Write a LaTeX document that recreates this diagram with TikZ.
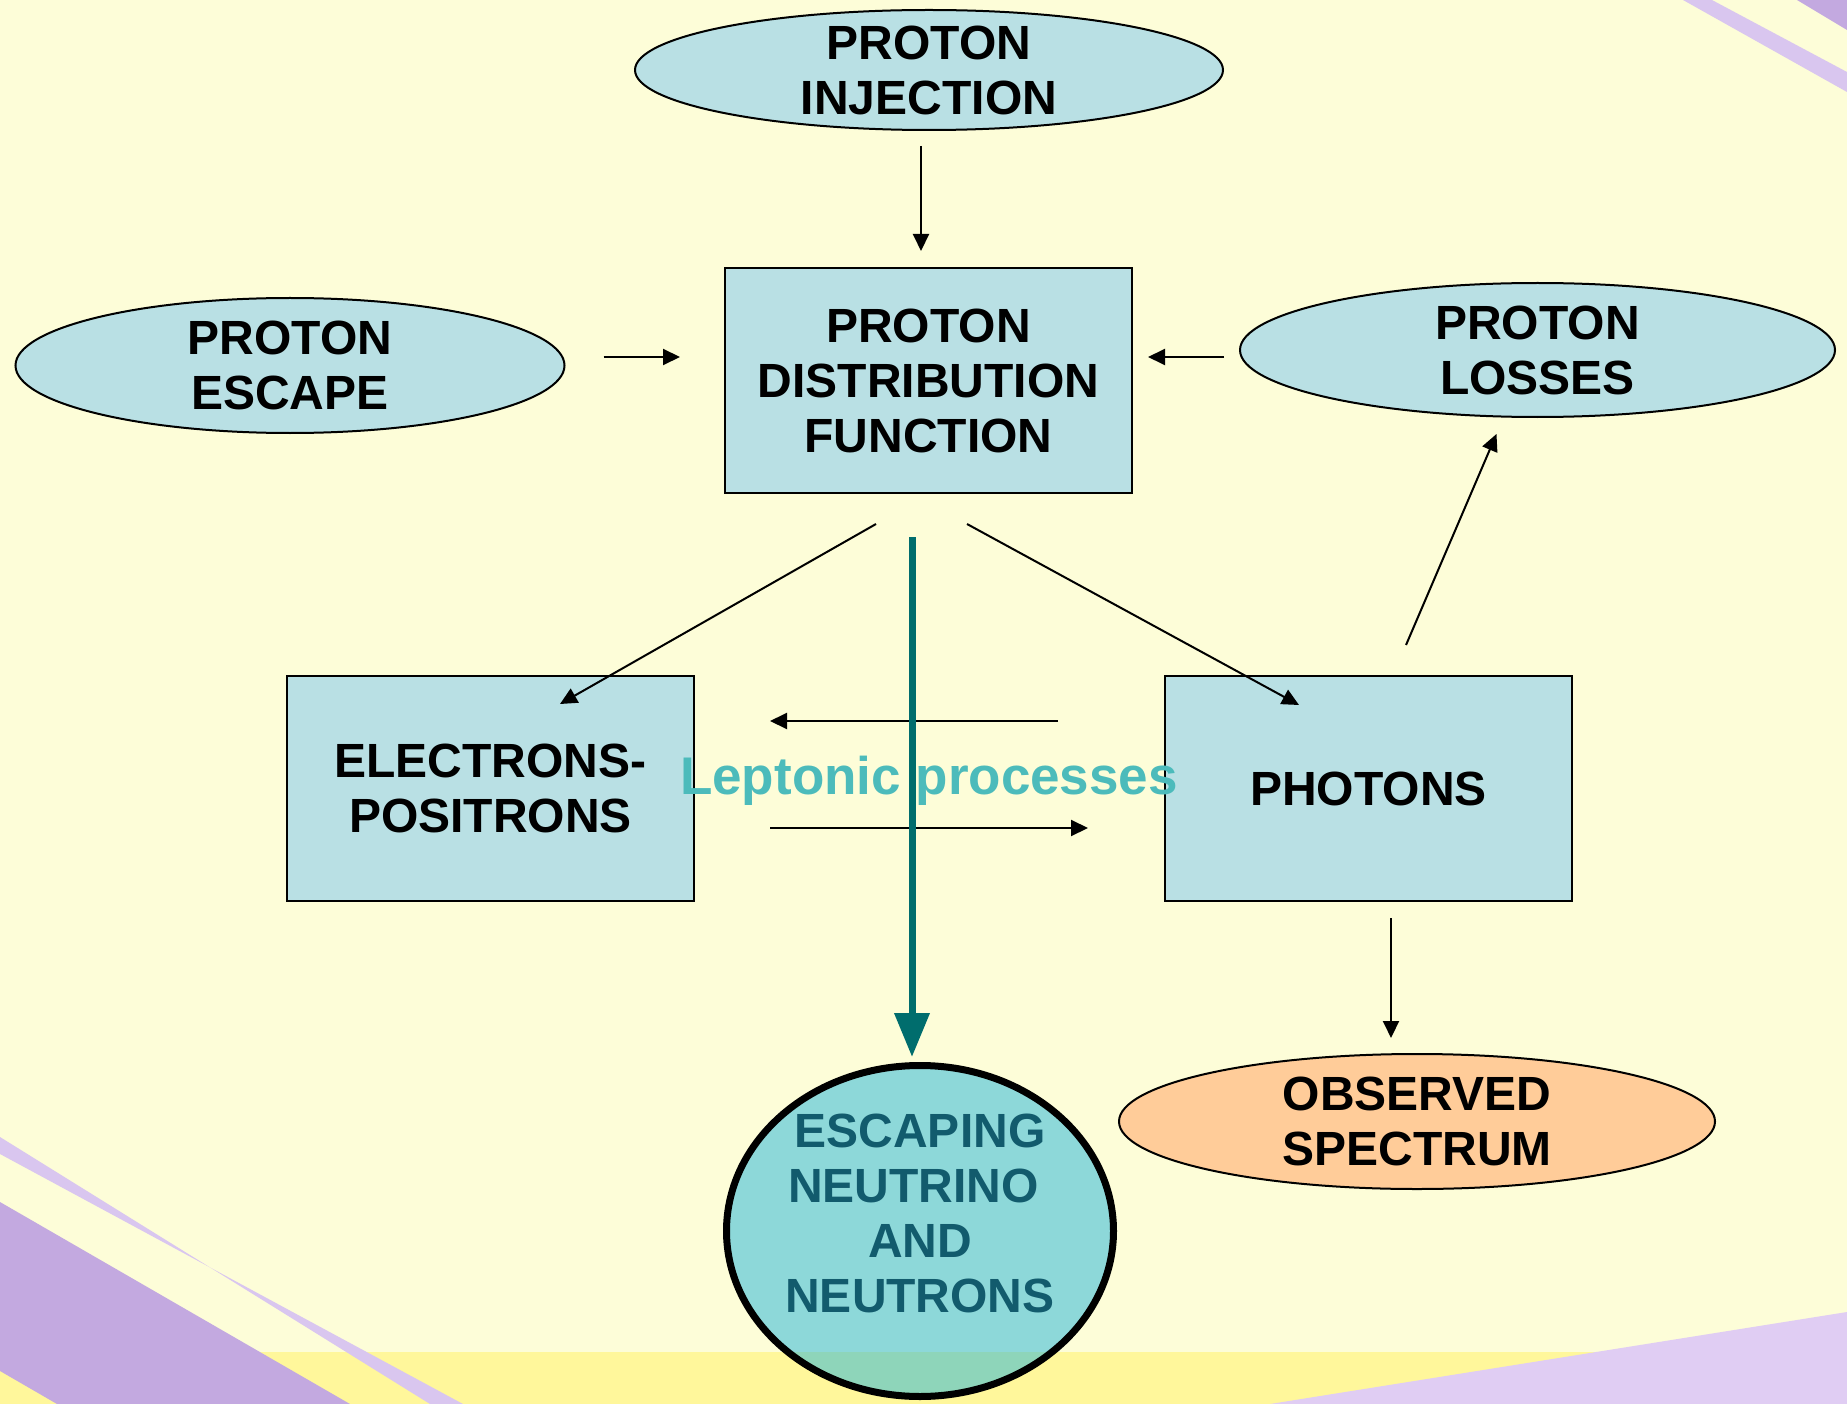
\documentclass[tikz,border=0pt]{standalone}
\usepackage{fontspec}
\setmainfont{Liberation Sans}
\usetikzlibrary{shapes.geometric,arrows.meta,calc}
\definecolor{bgc}{RGB}{253,253,216}
\definecolor{bandc}{RGB}{255,247,155}
\definecolor{purpc}{RGB}{195,169,224}
\definecolor{lavc}{RGB}{217,198,239}
\definecolor{lavbc}{RGB}{224,205,243}
\definecolor{boxc}{RGB}{185,224,228}
\definecolor{peachc}{RGB}{255,204,153}
\definecolor{escc}{RGB}{31,181,218}
\definecolor{esctxtc}{RGB}{18,91,109}
\definecolor{leptoc}{RGB}{76,187,187}
\definecolor{darktealc}{RGB}{0,109,109}
\begin{document}
\begin{tikzpicture}[x=1pt,y=-1pt,
  txt/.style={font=\bfseries\fontsize{48}{55}\selectfont, align=center, text=black, inner sep=0pt},
  oval/.style={ellipse, draw=black, line width=2pt, fill=boxc, inner sep=0pt},
  blk/.style={rectangle, draw=black, line width=2pt, fill=boxc, inner sep=0pt},
  thinarrow/.style={line width=2pt, -{Triangle[length=17pt,width=16pt]}},
  thickarrow/.style={line width=7pt, darktealc, -{Triangle[length=44pt,width=34pt]}},
]
\useasboundingbox (0,0) rectangle (1847,1404);
\fill[bgc] (0,0) rectangle (1847,1404);
% background decorations
\fill[bandc] (0,1352) rectangle (1847,1404);
\fill[purpc] (0,1202) -- (350,1404) -- (57,1404) -- (0,1371) -- cycle;
\fill[lavc] (0,1137) -- (430,1404) -- (463,1404) -- (0,1154) -- cycle;
\fill[lavbc] (1270,1404) -- (1847,1312) -- (1847,1404) -- cycle;
\fill[lavc] (1683,0) -- (1712,0) -- (1847,72) -- (1847,92) -- cycle;
\fill[purpc] (1797,0) -- (1847,0) -- (1847,30) -- cycle;

% nodes
\node[oval, minimum width=588pt, minimum height=120pt,
      label={[txt]center:PROTON\\INJECTION}] (inj) at (929,70) {};
\node[blk, minimum width=407pt, minimum height=225pt, txt] (pdf) at (928.5,380.5)
      {PROTON\\DISTRIBUTION\\FUNCTION};
\node[oval, minimum width=549pt, minimum height=135pt,
      label={[txt]center:PROTON\\ESCAPE}] (esc) at (290,365.5) {};
\node[oval, minimum width=595pt, minimum height=134pt,
      label={[txt]center:PROTON\\LOSSES}] (loss) at (1537.5,350) {};
\node[blk, minimum width=407pt, minimum height=225pt, txt] (ele) at (490.5,788.5)
      {ELECTRONS-\\POSITRONS};
\node[blk, minimum width=407pt, minimum height=225pt, txt] (pho) at (1368.5,788.5)
      {PHOTONS};
\node[oval, fill=peachc, minimum width=596pt, minimum height=135pt,
      label={[txt]center:OBSERVED\\SPECTRUM}] (obs) at (1417,1121.5) {};
\node[ellipse, draw=black, line width=7pt, fill=escc, fill opacity=0.5, inner sep=0pt,
      minimum width=387pt, minimum height=331pt,
      label={[txt, text=esctxtc, fill opacity=1, text opacity=1, yshift=18pt]center:ESCAPING\\NEUTRINO\hspace*{13pt}\null\\AND\\NEUTRONS}]
      (escn) at (920,1231) {};

% thin connectors
\draw[thinarrow] ($(inj.south)+(-8,15)$) -- ($(pdf.north)+(-7.5,-16)$);
\draw[thinarrow] ($(esc.east)+(38,-8.5)$) -- ($(pdf.west)+(-44,-23.5)$);
\draw[thinarrow] ($(loss.west)+(-15,7)$) -- ($(pdf.east)+(15,-23.5)$);
\draw[thinarrow] ($(pdf.south)+(-52.5,30)$) -- ($(ele.north)+(69.5,29)$);
\draw[thinarrow] ($(pdf.south)+(38.5,30)$) -- ($(pho.north)+(-69.5,30)$);
\draw[thinarrow] ($(pho.west)+(-106,-67.5)$) -- ($(ele.east)+(75,-67.5)$);
\draw[thinarrow] ($(ele.east)+(75,39.5)$) -- ($(pho.west)+(-76,39.5)$);
\draw[thinarrow] ($(pho.north)+(37.5,-30)$) -- ($(loss.south)+(-41,16)$);
\draw[thinarrow] ($(pho.south)+(22.5,16)$) -- ($(obs.north)+(-26,-15)$);

% label text
\node[anchor=base, inner sep=0pt, font=\bfseries\fontsize{53}{60}\selectfont, text=leptoc]
      (lep) at (929,794) {Leptonic processes};

% thick connector
\draw[thickarrow] ($(pdf.south)+(-16.5,43)$) -- ($(escn.north)+(-8,-5)$);
\end{tikzpicture}
\end{document}
